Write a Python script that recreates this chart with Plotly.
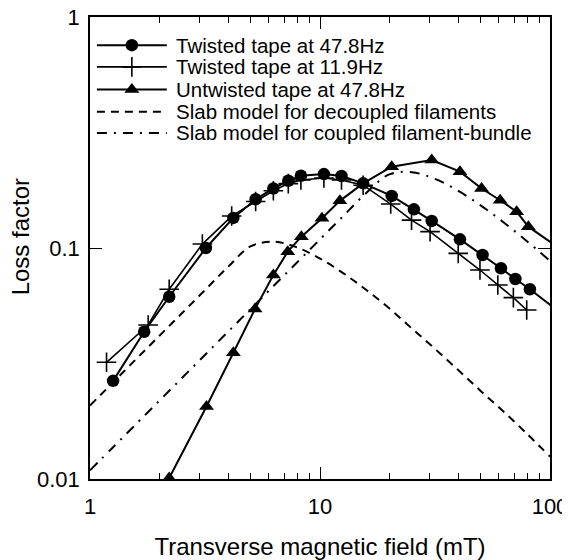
import plotly.graph_objects as go

# ---- data ----
circ_x = [1.26, 1.72, 2.21, 3.19, 4.2, 5.25, 6.27, 7.28, 8.26, 10.4, 12.4, 15.4, 20.5, 25.6, 30.6, 40.6, 50.9, 61.2, 70.7, 81.8, 110]
circ_y = [0.0266, 0.0434, 0.0615, 0.100, 0.135, 0.1625, 0.181, 0.1955, 0.2055, 0.209, 0.205, 0.1905, 0.168, 0.147, 0.131, 0.109, 0.0933, 0.0817, 0.0734, 0.0663, 0.0527]

plus_x = [1.18, 1.79, 2.21, 3.08, 4.13, 5.25, 6.27, 7.28, 8.26, 10.4, 12.4, 15.4, 20.3, 25.0, 30.1, 39.9, 49.6, 59.3, 69.3, 79.2]
plus_y = [0.032, 0.0464, 0.0663, 0.104, 0.1375, 0.159, 0.177, 0.19, 0.197, 0.201, 0.197, 0.187, 0.155, 0.132, 0.1177, 0.0948, 0.0803, 0.0692, 0.061, 0.0539]

tri_x = [2.21, 3.21, 4.2, 5.22, 6.27, 7.24, 8.3, 10.2, 12.2, 15.4, 20.5, 30.6, 40.6, 50.4, 60.7, 71.6, 80.5, 110]
tri_y = [0.0101, 0.0206, 0.0352, 0.0545, 0.0764, 0.0964, 0.112, 0.1345, 0.16, 0.1905, 0.225, 0.2405, 0.214, 0.181, 0.161, 0.1436, 0.1237, 0.0995]

dec_x = [1, 1.26, 1.58, 2, 2.51, 3.16, 3.98, 5.01, 6.31, 7.94, 10, 12.6, 15.8, 20, 25.1, 31.6, 39.8, 50.1, 63.1, 79.4, 100]
dec_y = [0.0208, 0.0262, 0.0329, 0.0416, 0.0522, 0.0657, 0.0828, 0.1018, 0.1064, 0.1006, 0.0900, 0.0779, 0.0661, 0.0548, 0.0448, 0.0366, 0.0297, 0.0240, 0.0195, 0.0157, 0.0125]

cpl_x = [1, 1.26, 1.58, 2, 2.51, 3.16, 3.98, 5.01, 6.31, 7.94, 10, 12.6, 15.8, 20, 25.1, 31.6, 39.8, 50.1, 63.1, 79.4, 100]
cpl_y = [0.0109, 0.01373, 0.01722, 0.0218, 0.02736, 0.03444, 0.04338, 0.0546, 0.0688, 0.0865, 0.109, 0.1373, 0.1722, 0.2083, 0.2128, 0.1991, 0.1771, 0.1526, 0.1287, 0.1070, 0.088]

legend_labels = [
    "Twisted tape at 47.8Hz",
    "Twisted tape at 11.9Hz",
    "Untwisted tape at 47.8Hz",
    "Slab model for decoupled filaments",
    "Slab model for coupled filament-bundle",
]

x_tickvals = [1, 10, 100]
x_ticktext = ["1", "10", "100"]
x_minorvals = [2, 3, 4, 5, 6, 7, 8, 9, 20, 30, 40, 50, 60, 70, 80, 90]
y_tickvals = [0.01, 0.1, 1]
y_ticktext = ["0.01", "0.1", "1"]

FONT = "Liberation Sans, Arial, sans-serif"
BLACK = "black"

styles = [
    dict(mode="lines+markers", line=dict(color=BLACK, width=2),
         marker=dict(symbol="circle", size=12.5, color=BLACK)),
    dict(mode="lines+markers", line=dict(color=BLACK, width=1.6),
         marker=dict(symbol="cross-thin", size=14, line=dict(color=BLACK, width=1.6))),
    dict(mode="lines+markers", line=dict(color=BLACK, width=2),
         marker=dict(symbol="triangle-up", size=13, color=BLACK)),
    dict(mode="lines", line=dict(color=BLACK, width=2, dash="8px,6px", shape="spline")),
    dict(mode="lines", line=dict(color=BLACK, width=2, dash="10px,7px,2px,7px", shape="spline")),
]

series = [(circ_x, circ_y), (plus_x, plus_y), (tri_x, tri_y), (dec_x, dec_y), (cpl_x, cpl_y)]

fig = go.Figure()
for (xs, ys), st, name in zip(series, styles, legend_labels):
    fig.add_trace(go.Scatter(x=xs, y=ys, name=name, showlegend=False, **st))

# ---- manual legend (on an overlay axis in plot-fraction units) ----
leg_x0, leg_x1, leg_xm, leg_tx = 0.015, 0.167, 0.091, 0.182
leg_rows = [0.939, 0.892, 0.843, 0.795, 0.749]
for st, name, yy in zip(styles, legend_labels, leg_rows):
    line = dict(st["line"])
    line.pop("shape", None)
    fig.add_trace(go.Scatter(x=[leg_x0, leg_x1], y=[yy, yy], mode="lines", line=line,
                             xaxis="x2", yaxis="y2", showlegend=False, hoverinfo="skip"))
    if "marker" in st:
        fig.add_trace(go.Scatter(x=[leg_xm], y=[yy], mode="markers", marker=st["marker"],
                                 xaxis="x2", yaxis="y2", showlegend=False, hoverinfo="skip"))
    fig.add_annotation(x=leg_tx, y=yy, xref="x2", yref="y2", text=name, showarrow=False,
                       xanchor="left", yanchor="middle", font=dict(size=20.5, color=BLACK, family=FONT))

# y-axis title placed as an annotation (slightly above the plot's centre, as in the reference)
fig.add_annotation(x=0, y=0.523, xref="paper", yref="paper", text="Loss factor", showarrow=False,
                   textangle=-90, xanchor="center", yanchor="middle", xshift=-70,
                   font=dict(size=24, color=BLACK, family=FONT))

axis_common = dict(showline=True, linecolor=BLACK, linewidth=1.5, mirror="ticks",
                   ticks="inside", ticklen=12, tickwidth=1.2, tickcolor=BLACK,
                   showgrid=False, zeroline=False, automargin=False,
                   ticklabeloverflow="allow",
                   tickfont=dict(size=22, color=BLACK, family=FONT))

# the page adds an 8px body margin, so the figure is sized 8px smaller
fig.update_layout(
    width=562, height=552,
    margin=dict(l=82, r=20, t=9, b=81),
    paper_bgcolor="white", plot_bgcolor="white",
    font=dict(family=FONT, color=BLACK),
    xaxis=dict(type="log", range=[0, 2], tickvals=x_tickvals, ticktext=x_ticktext,
               minor=dict(tickvals=x_minorvals, ticks="inside", ticklen=6, tickwidth=1.0, tickcolor=BLACK),
               ticklabelstandoff=7,
               title=dict(text="Transverse magnetic field (mT)", font=dict(size=24, color=BLACK, family=FONT), standoff=28),
               **axis_common),
    yaxis=dict(type="log", range=[-2, 0], tickvals=y_tickvals, ticktext=y_ticktext,
               ticklabelstandoff=4,
               **axis_common),
    xaxis2=dict(overlaying="x", range=[0, 1], visible=False, fixedrange=True),
    yaxis2=dict(overlaying="y", range=[0, 1], visible=False, fixedrange=True),
    showlegend=False,
)

fig.write_html("out.html")
